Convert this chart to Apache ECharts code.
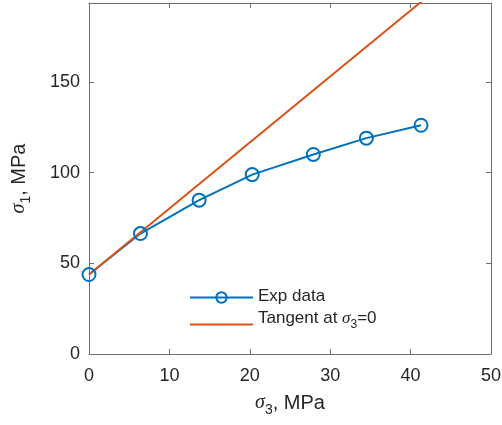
<!DOCTYPE html>
<html>
<head>
<meta charset="utf-8">
<script src="https://cdn.jsdelivr.net/npm/echarts@6/dist/echarts.min.js"></script>
<style>
  html, body { margin: 0; padding: 0; background: #fff; }
  #chart { width: 502px; height: 425px; }
</style>
</head>
<body>
<div id="chart"></div>
<script>
// Triaxial test results: confining stress sigma3 vs. peak stress sigma1 (MPa)
const sigma3 = [0, 6.4, 13.7, 20.3, 27.9, 34.5, 41.3];
const sigma1 = [43.8, 66.4, 84.8, 98.9, 110.0, 119.0, 126.1];

// Tangent to the envelope at sigma3 = 0 (straight line, two end points)
const tangentX = [0, 50];
const tangentY = [43.8, 225.8];

const xTicks = [0, 10, 20, 30, 40, 50];
const yTicks = [0, 50, 100, 150];
const xRange = [0, 50];
const yRange = [0, 193.5];

const BLUE = '#0072BD';
const ORANGE = '#D95319';
const TXT = '#262626';
const AXIS = '#6e6e6e';
const SANS = '"Liberation Sans", Arial, Helvetica, sans-serif';
const SERIF = '"Liberation Serif", "DejaVu Serif", serif';

const rich = {
  g: { fontFamily: SERIF, fontStyle: 'italic', fontSize: 20, color: TXT, lineHeight: 22, verticalAlign: 'top' },
  sub: { fontFamily: SANS, fontSize: 14, color: TXT, lineHeight: 34, verticalAlign: 'middle' },
  t: { fontFamily: SANS, fontSize: 20, color: TXT, lineHeight: 22, verticalAlign: 'top' }
};
const legRich = {
  t: { fontFamily: SANS, fontSize: 17, color: TXT, lineHeight: 19, verticalAlign: 'top' },
  g: { fontFamily: SERIF, fontStyle: 'italic', fontSize: 17, color: TXT, lineHeight: 19, verticalAlign: 'top' },
  sub: { fontFamily: SANS, fontSize: 12, color: TXT, lineHeight: 29, verticalAlign: 'middle' }
};

const axisCommon = {
  type: 'value',
  axisLine: { show: true, onZero: false, lineStyle: { color: AXIS, width: 1 } },
  splitLine: { show: false },
  axisTick: { show: true, inside: true, length: 5, lineStyle: { color: AXIS } }
};

const chart = echarts.init(document.getElementById('chart'), null, { renderer: 'canvas' });
chart.setOption({
  animation: false,
  backgroundColor: '#fff',
  grid: { left: 89, right: 11, top: 3, bottom: 71, containLabel: false, outerBoundsMode: 'none' },
  legend: {
    orient: 'vertical',
    left: 189,
    top: 288,
    padding: 0,
    itemWidth: 63,
    itemHeight: 13,
    itemGap: 5,
    data: [
      { name: 'Exp data' },
      { name: 'Tangent', itemStyle: { opacity: 0 } }
    ],
    formatter: function (name) {
      return name === 'Exp data' ? '{t|Exp data}' : '{t|Tangent at }{g|σ}{sub|3}{t|=0}';
    },
    textStyle: { rich: legRich, color: TXT, fontSize: 17 }
  },
  xAxis: [
    Object.assign({}, axisCommon, {
      min: xRange[0], max: xRange[1], interval: 10, position: 'bottom',
      axisTick: Object.assign({}, axisCommon.axisTick, { customValues: xTicks }),
      axisLabel: { customValues: xTicks, fontFamily: SANS, fontSize: 18, color: TXT, margin: 13 },
      name: '{g|σ}{sub|3}{t|, MPa}',
      nameLocation: 'middle',
      nameGap: 39,
      nameTextStyle: { rich: rich }
    }),
    Object.assign({}, axisCommon, {
      min: xRange[0], max: xRange[1], interval: 10, position: 'top',
      axisTick: Object.assign({}, axisCommon.axisTick, { customValues: xTicks }),
      axisLabel: { show: false }
    })
  ],
  yAxis: [
    Object.assign({}, axisCommon, {
      min: yRange[0], max: yRange[1], interval: 50, position: 'left',
      axisTick: Object.assign({}, axisCommon.axisTick, { customValues: yTicks }),
      axisLabel: { customValues: yTicks, fontFamily: SANS, fontSize: 18, color: TXT, margin: 9 },
      name: '{g|σ}{sub|1}{t|, MPa}',
      nameLocation: 'middle',
      nameGap: 46,
      nameRotate: 90,
      nameTextStyle: { rich: rich }
    }),
    Object.assign({}, axisCommon, {
      min: yRange[0], max: yRange[1], interval: 50, position: 'right',
      axisTick: Object.assign({}, axisCommon.axisTick, { customValues: yTicks }),
      axisLabel: { show: false }
    })
  ],
  series: [
    {
      name: 'Exp data',
      type: 'line',
      data: sigma3.map((x, i) => [x, sigma1[i]]),
      symbol: 'circle',
      symbolSize: 13,
      showAllSymbol: true,
      lineStyle: { color: BLUE, width: 2 },
      itemStyle: { color: 'rgba(255,255,255,0)', borderColor: BLUE, borderWidth: 2 },
      clip: true
    },
    {
      name: 'Tangent',
      type: 'line',
      data: tangentX.map((x, i) => [x, tangentY[i]]),
      symbol: 'none',
      lineStyle: { color: ORANGE, width: 2 },
      itemStyle: { color: ORANGE },
      clip: true
    }
  ]
});
</script>
</body>
</html>
